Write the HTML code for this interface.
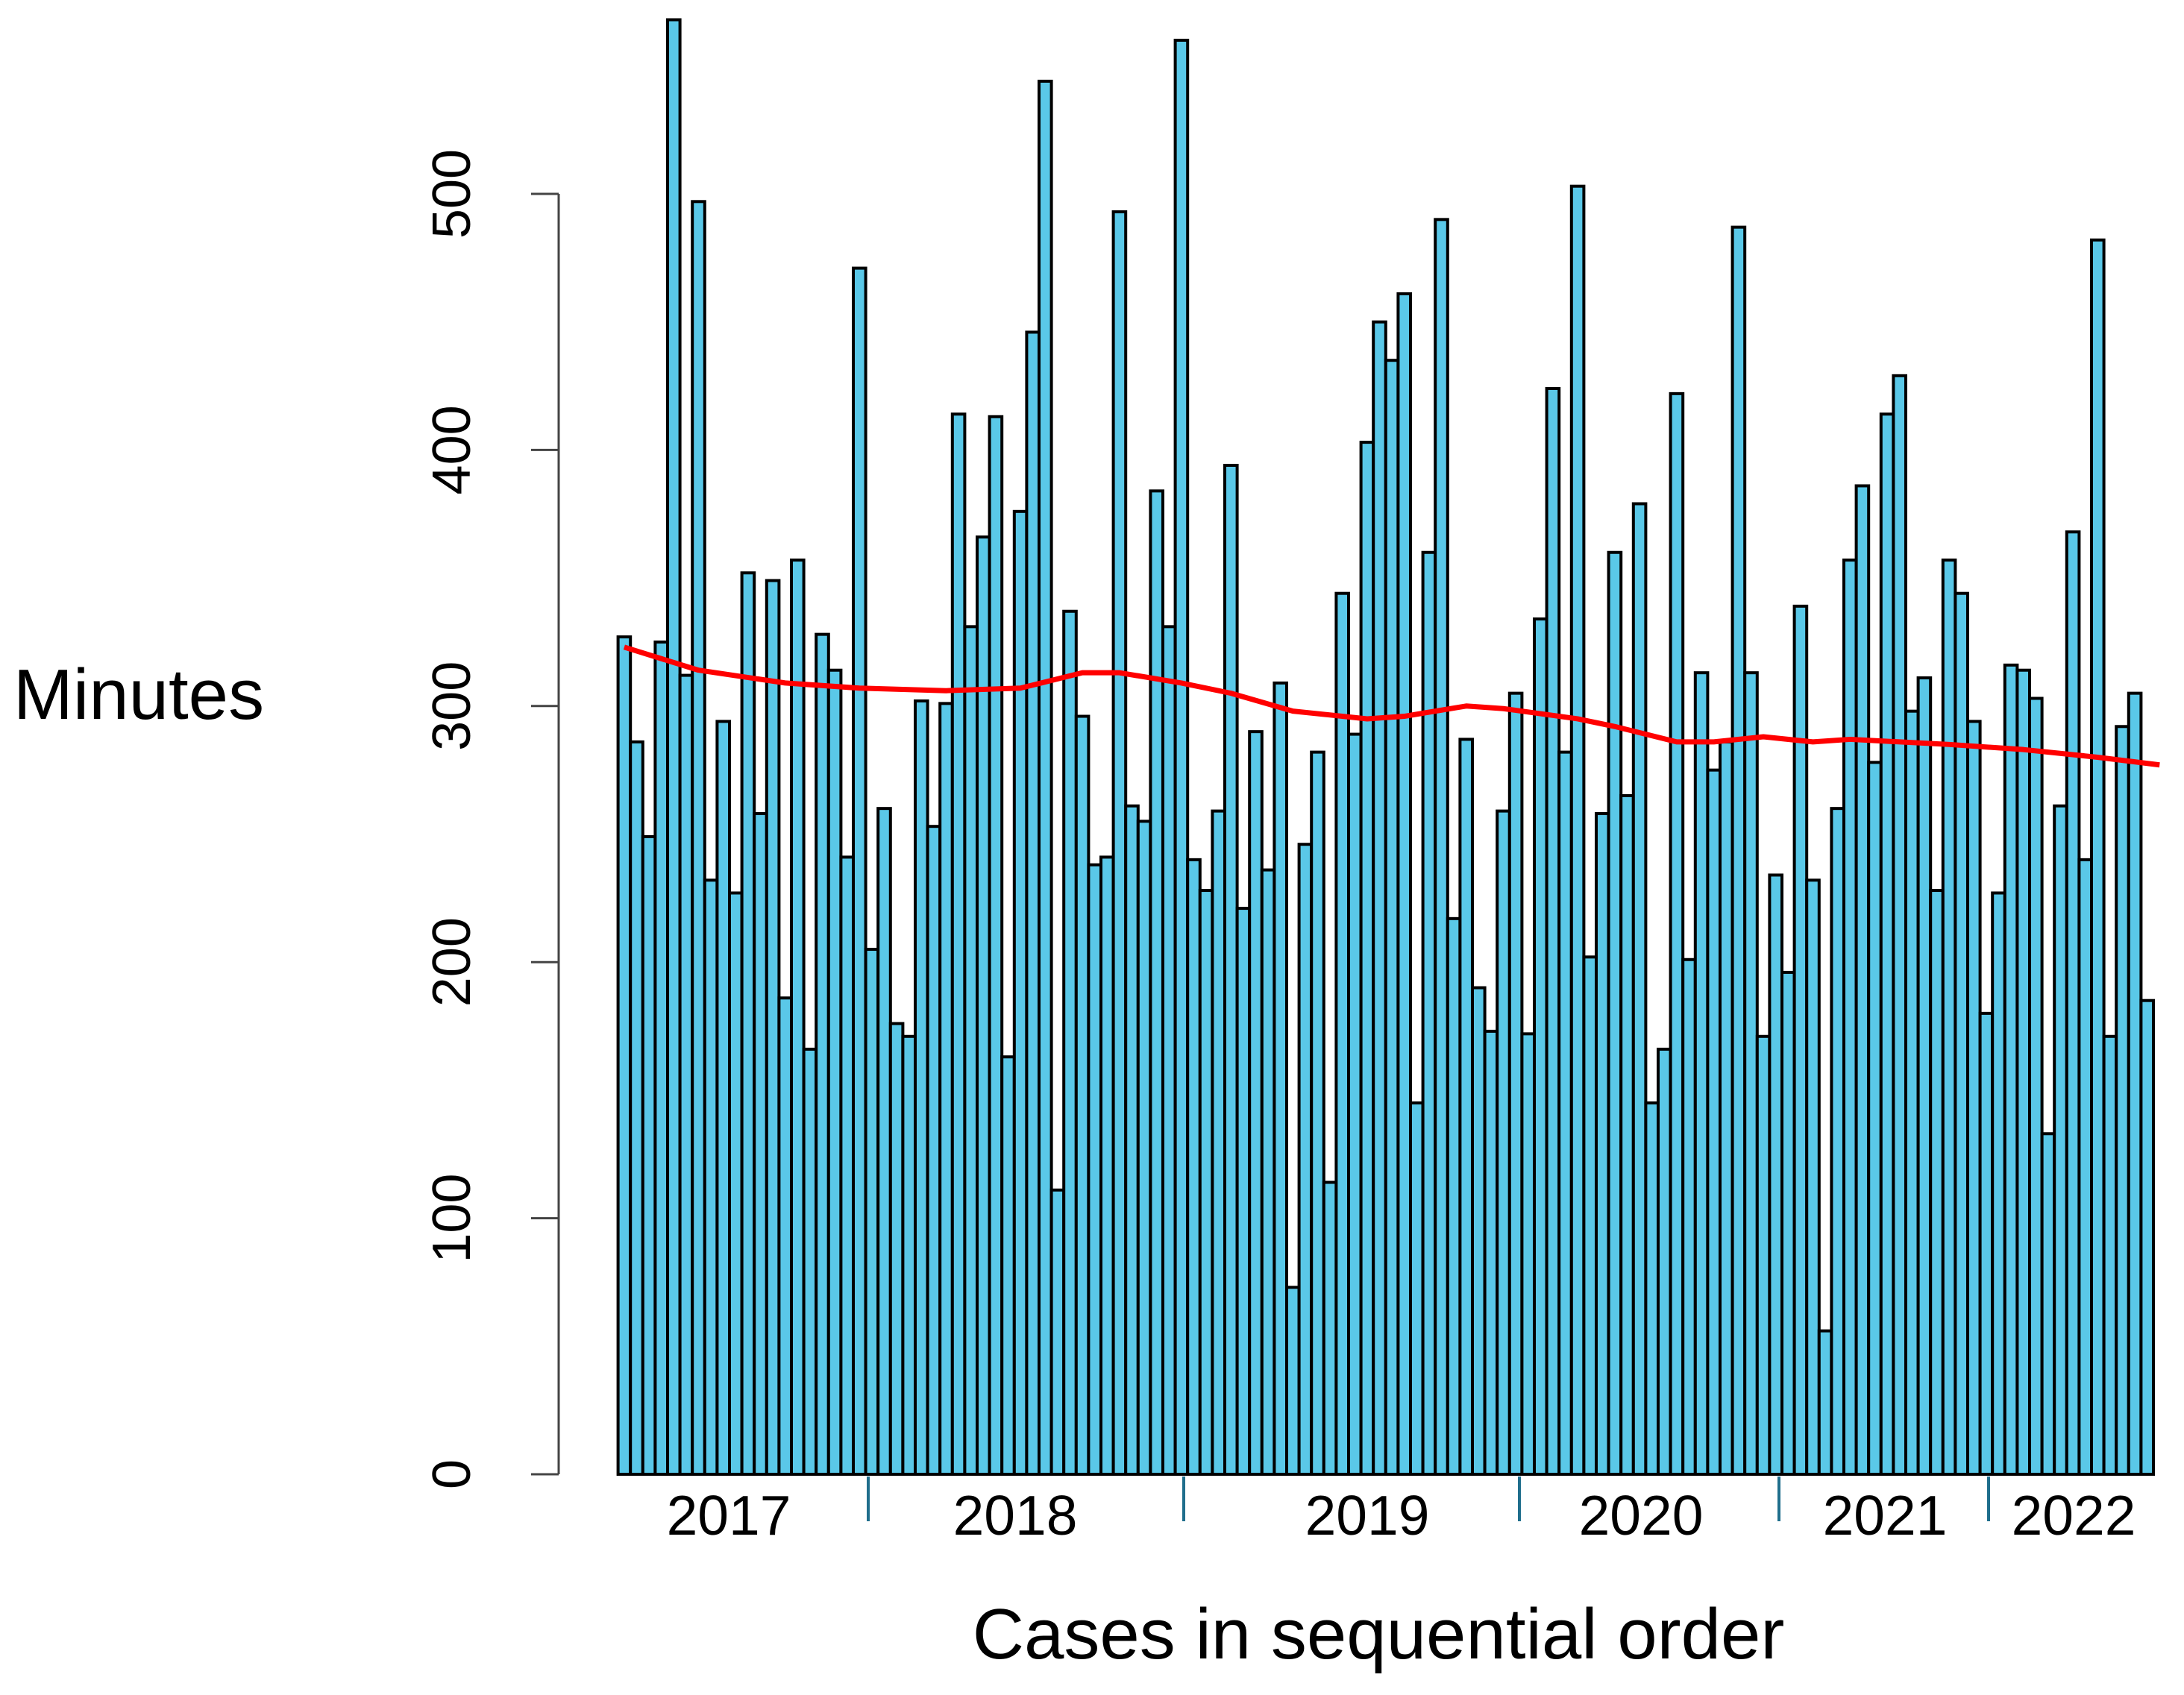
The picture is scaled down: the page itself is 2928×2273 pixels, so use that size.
<!DOCTYPE html>
<html><head><meta charset="utf-8">
<style>
html,body{margin:0;padding:0;background:#fff;}
svg{display:block;font-family:"Liberation Sans",Arial,sans-serif;}
</style></head>
<body>
<svg id="chart" width="2928" height="2273" viewBox="0 0 2928 2273" xmlns="http://www.w3.org/2000/svg">
<g id="bars"></g>
<g id="trend"></g>
<g id="yaxis"></g>
<g id="xaxis"></g>
<text x="186" y="964" font-size="96" text-anchor="middle" fill="#000">Minutes</text>
<text x="1848" y="2224" font-size="96" text-anchor="middle" fill="#000">Cases in sequential order</text>
</svg>
<script>
const minutes = [327,286,249,325,568,312,497,232,294,227,352,258,349,186,357,166,328,314,241,471,205,260,176,171,302,253,301,414,331,366,413,163,
376,446,544,111,337,296,238,241,493,261,255,384,331,560,240,228,259,394,221,290,236,309,73,246,282,114,344,289,403,450,435,461,
145,360,490,217,287,190,173,259,305,172,334,424,282,503,202,258,360,265,379,145,166,422,201,313,275,286,487,313,171,234,196,
339,232,56,260,357,386,278,414,429,298,311,228,357,344,294,180,227,316,314,303,133,261,368,240,482,171,292,305,185];
const trendIdx = [1,7,14,20,27,33,38,41,46,50,55,61,64,69,72,78,81,86,89,93,97,100,108,114,120,125];
const trendVal = [323,314,309,307,306,307,313,313,309,305,298,295,296,300,299,295,292,286,286,288,286,287,285,283,280,277];
const yTicks = [0,100,200,300,400,500];
const years = ["2017","2018","2019","2020","2021","2022"];
const yearLabelX = [977,1361,1833,2200,2527,2780];
const yearTickX = [1164,1587,2037,2385,2666];

const NS="http://www.w3.org/2000/svg";
const x0=828.6, pitch=16.6, yZero=1977, yScale=(1977-260)/500;
const y=v=>yZero-v*yScale;
const xc=i=>x0+(i-0.5)*pitch;
function mk(tag,attrs,parent){const e=document.createElementNS(NS,tag);for(const k in attrs)e.setAttribute(k,attrs[k]);parent.appendChild(e);return e;}

const gb=document.getElementById('bars');
minutes.forEach((v,i)=>{
  const r=mk('rect',{x:x0+i*pitch,y:y(v),width:pitch,height:yZero-y(v),fill:'#5ac8e8',stroke:'#000','stroke-width':4},gb);
  
  
});

const gt=document.getElementById('trend');
const pts=trendIdx.map((t,k)=>xc(t)+','+y(trendVal[k])).join(' ');
const pl=mk('polyline',{points:pts,fill:'none',stroke:'#ff0000','stroke-width':7,'stroke-linejoin':'round'},gt);



const gy=document.getElementById('yaxis');
const al=mk('line',{x1:749,x2:749,y1:y(0),y2:y(500),stroke:'#444','stroke-width':3},gy);


yTicks.forEach(t=>{
  const tk=mk('line',{x1:749,x2:712,y1:y(t),y2:y(t),stroke:'#444','stroke-width':3},gy);
  
  
  const lb=mk('text',{x:0,y:0,'font-size':72,'text-anchor':'middle',transform:`translate(630,${y(t)}) rotate(-90)`},gy);
  lb.textContent=t;
  
  
});

const gx=document.getElementById('xaxis');
yearTickX.forEach(xx=>{
  const tk=mk('line',{x1:xx,x2:xx,y1:1980,y2:2040,stroke:'#1f6e8c','stroke-width':4},gx);
  
  
});
years.forEach((yr,k)=>{
  const lb=mk('text',{x:yearLabelX[k],y:2058,'font-size':75,'text-anchor':'middle'},gx);
  lb.textContent=yr;
  
  
});
</script>
</body></html>
